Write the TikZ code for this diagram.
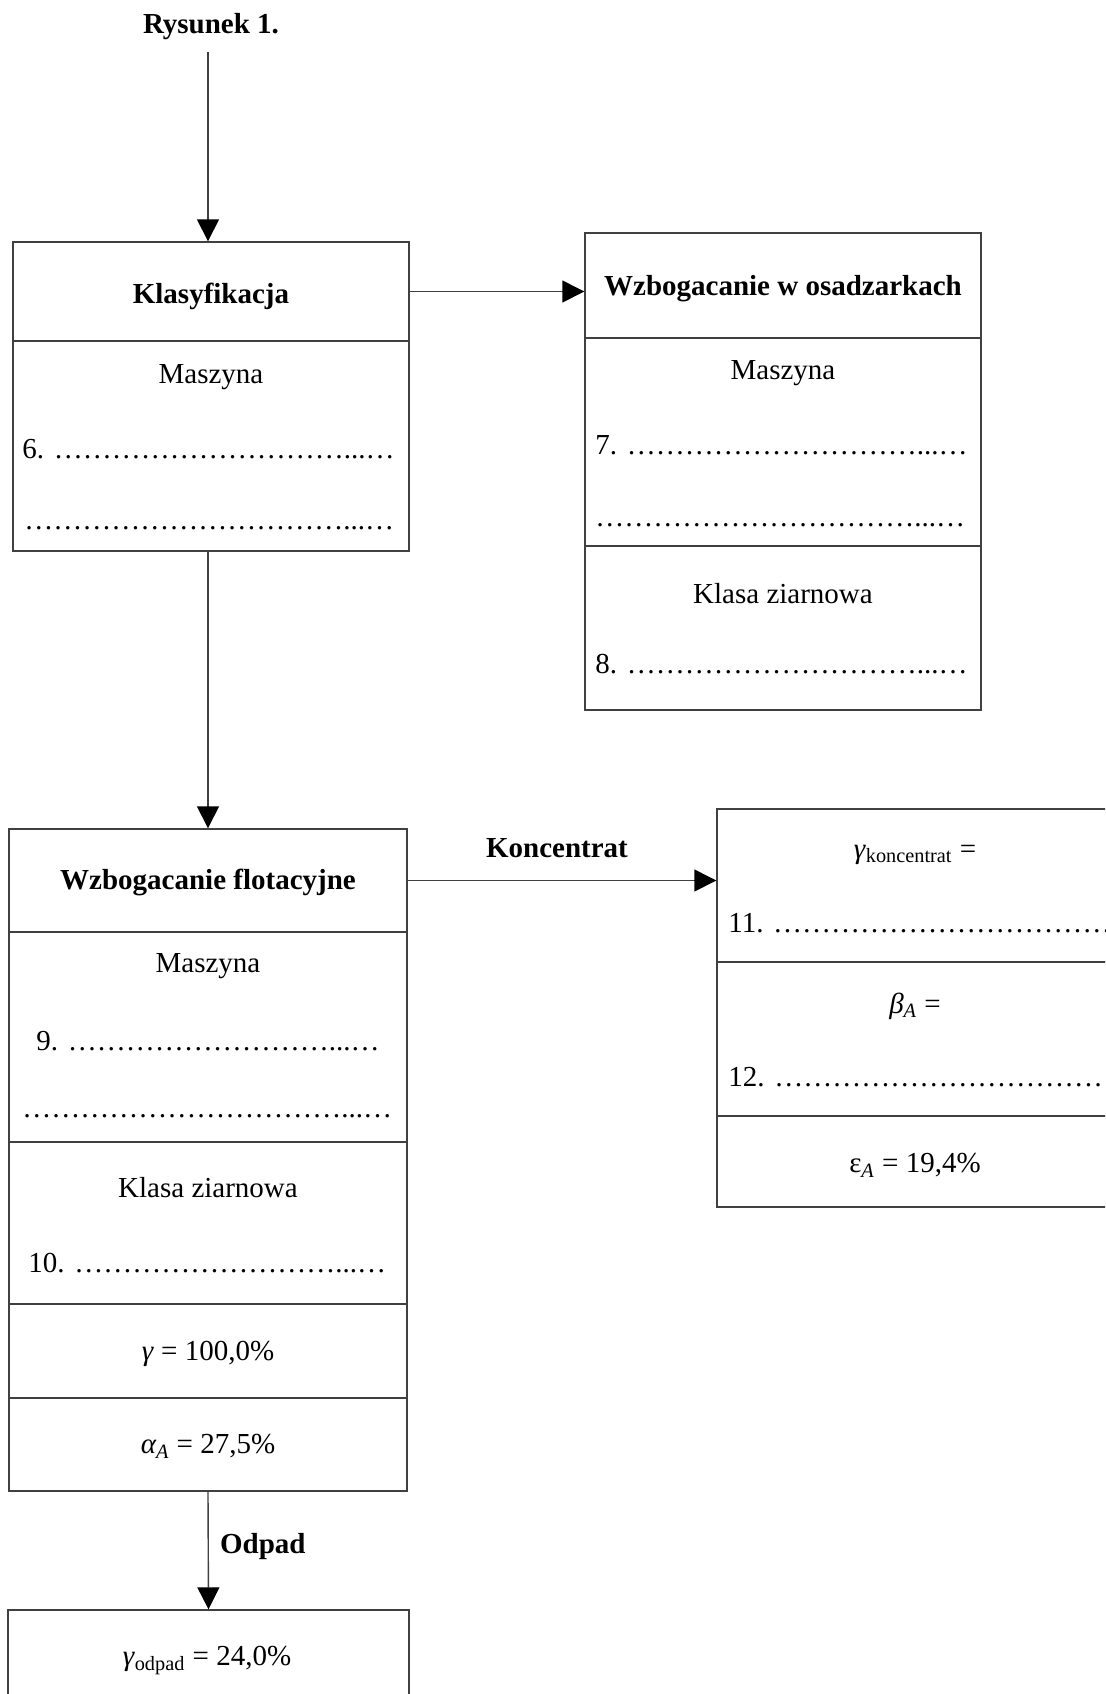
\documentclass[tikz,border=0pt]{standalone}
\usepackage{fontspec}
\setmainfont{Liberation Serif}
\usepackage{tikz}
\usetikzlibrary{positioning,fit,arrows.meta}

\newcommand{\kropki}[1]{\foreach \k in {1,...,#1}{…}}

\tikzset{
    sekcja/.style={draw=black!75, line width=0.7pt, inner sep=0pt},
    strz/.style={draw=black!75, line width=0.7pt, -{Triangle[length=11pt,width=11pt,color=black]}},
    opis/.style={font=\fontsize{14.5}{17}\selectfont, yshift=-1.75pt},
    tytul/.style={font=\bfseries\fontsize{14.5}{17}\selectfont, yshift=-1.75pt},
    linia/.style={opis, anchor=west, inner sep=0pt},
}

\begin{document}
\begin{tikzpicture}[x=0.5pt, y=-0.5pt]
    \useasboundingbox (0,0) rectangle (1105,1694);
    \clip (0,0) rectangle (1105,1694);

    % Naglowek
    \node[tytul] (rys) at (211,23) {Rysunek 1.};
    \coordinate (wejscie) at (208,52);

    % Klasyfikacja
    \node[sekcja, fit={(13,242) (409,341)}] (klasT) {};
    \node[sekcja, fit={(13,341) (409,551)}] (klasB) {};
    \node[tytul] at (211,293) {Klasyfikacja};
    \node[opis] at (211,374) {Maszyna};
    \node[linia] at (22,446) {6. \kropki{10}...…};
    \node[linia] at (24,525) {\kropki{11}...…};

    % Wzbogacanie w osadzarkach
    \node[sekcja, fit={(585,233) (981,338)}] (osadT) {};
    \node[sekcja, fit={(585,338) (981,546)}] (osadM) {};
    \node[sekcja, fit={(585,546) (981,710)}] (osadK) {};
    \node[tytul] at (783,285) {Wzbogacanie w osadzarkach};
    \node[opis] at (783,370) {Maszyna};
    \node[linia] at (595,442) {7. \kropki{10}...…};
    \node[linia] at (595,522) {\kropki{11}...…};
    \node[opis] at (783,590) {Klasa ziarnowa};
    \node[linia] at (595,661) {8. \kropki{10}...…};

    % Wzbogacanie flotacyjne
    \node[sekcja, fit={(9,829) (407,932)}] (flotT) {};
    \node[sekcja, fit={(9,932) (407,1142)}] (flotM) {};
    \node[sekcja, fit={(9,1142) (407,1304)}] (flotK) {};
    \node[sekcja, fit={(9,1304) (407,1398)}] (flotG) {};
    \node[sekcja, fit={(9,1398) (407,1491)}] (flotA) {};
    \node[tytul] at (208,879) {Wzbogacanie flotacyjne};
    \node[opis] at (208,963) {Maszyna};
    \node[linia] at (36,1038) {9. \kropki{9}...…};
    \node[linia] at (22,1113) {\kropki{11}...…};
    \node[opis] at (208,1184) {Klasa ziarnowa};
    \node[linia] at (28,1260) {10. \kropki{9}...…};
    \node[opis] at (208,1350) {\textit{γ} = 100,0\%};
    \node[opis] at (208,1443) {\textit{α\textsubscript{A}} = 27,5\%};

    % Koncentrat
    \node[sekcja, fit={(717,809) (1113,962)}] (koncG) {};
    \node[sekcja, fit={(717,962) (1113,1116)}] (koncB) {};
    \node[sekcja, fit={(717,1116) (1113,1207)}] (koncE) {};
    \node[opis] at (915,851) {\textit{γ}\textsubscript{koncentrat} =};
    \node[linia] at (728,920) {11. \kropki{15}};
    \node[opis] at (915,1003) {\textit{β\textsubscript{A}} =};
    \node[linia] at (728,1074) {12. \kropki{15}};
    \node[opis] at (915,1162) {ε\textsubscript{\textit{A}} = 19,4\%};

    % Odpad
    \node[sekcja, fit={(8,1610) (409,1720)}] (odpad) {};
    \node[opis] at (207,1657) {\textit{γ}\textsubscript{odpad} = 24,0\%};

    % Strzalki
    \draw[strz] (wejscie) -- (wejscie |- klasT.north);
    \draw[strz] (klasT.east) -- (klasT.east -| osadT.west);
    \draw[strz] (flotT.north |- klasB.south) -- (flotT.north);
    \draw[strz] (flotT.east) -- (flotT.east -| koncG.west);
    \node[tytul] at (557,845) {Koncentrat};
    \draw[strz] (flotA.south) -- (odpad.north);
    \node[tytul, anchor=west] at (213,1543) {Odpad};
\end{tikzpicture}
\end{document}
